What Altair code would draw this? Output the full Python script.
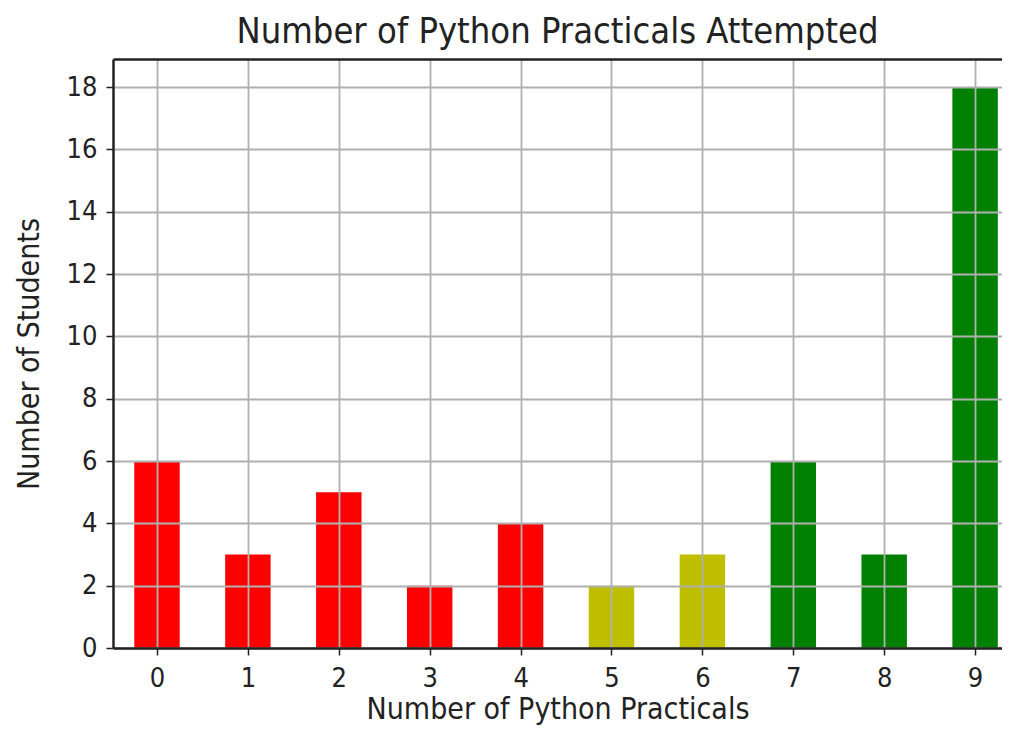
import altair as alt
import pandas as pd

practicals = [0, 1, 2, 3, 4, 5, 6, 7, 8, 9]
students = [6, 3, 5, 2, 4, 2, 3, 6, 3, 18]
groups = ["low", "low", "low", "low", "low", "mid", "mid", "high", "high", "high"]
group_names = ["low", "mid", "high"]
group_colors = ["#ff0000", "#bfbf00", "#008000"]
y_ticks = [0, 2, 4, 6, 8, 10, 12, 14, 16, 18]

df = pd.DataFrame({"practical": practicals, "students": students, "group": groups})

FONT = "'DejaVu Sans Condensed', 'DejaVu Sans', sans-serif"
xscale = alt.Scale(domain=[-0.484, 9.296], nice=False, zero=False)
yscale = alt.Scale(domain=[0, 18.9], nice=False, zero=True)

base = alt.Chart(df).transform_calculate(
    x0="datum.practical - 0.25", x1="datum.practical + 0.25"
)

bars = base.mark_bar().encode(
    x=alt.X(
        "x0:Q",
        scale=xscale,
        axis=alt.Axis(
            orient="bottom", values=practicals, title="Number of Python Practicals",
            grid=True, zindex=1, format="d", labelPadding=10, labelFontSize=27,
            titlePadding=3, titleFontSize=30,
        ),
    ),
    x2="x1:Q",
    y=alt.Y(
        "students:Q",
        scale=yscale,
        axis=alt.Axis(
            values=y_ticks, title="Number of Students", grid=True, zindex=1, format="d",
            labelPadding=9, titlePadding=22,
        ),
    ),
    y2=alt.datum(0),
    color=alt.Color("group:N", scale=alt.Scale(domain=group_names, range=group_colors), legend=None),
)

top = base.mark_bar(opacity=0).encode(
    x=alt.X(
        "x0:Q",
        scale=xscale,
        axis=alt.Axis(orient="top", labels=False, ticks=False, grid=False, title="", domain=True, zindex=1),
    ),
    x2="x1:Q",
    y=alt.Y("students:Q", scale=yscale),
    y2=alt.datum(0),
)

chart = (
    alt.layer(bars, top)
    .resolve_axis(x="independent")
    .properties(
        width=889,
        height=589,
        autosize=alt.AutoSizeParams(type="none"),
        padding={"left": 105, "top": 51, "right": 0, "bottom": 82},
        title=alt.TitleParams(
            "Number of Python Practicals Attempted", font=FONT, fontSize=36,
            fontWeight="normal", color="#222222", anchor="middle", offset=8,
        ),
    )
    .configure_view(strokeWidth=0)
    .configure_axis(
        labelFont=FONT, labelFontSize=27, labelColor="#222222",
        titleFont=FONT, titleFontSize=30, titleFontWeight="normal", titleColor="#222222",
        tickColor="#222222", tickSize=7, tickWidth=1.5,
        domainColor="#222222", domainWidth=2.5,
        gridColor="#b0b0b0", gridWidth=1.8,
    )
)

chart.save("out.html", embed_options={"renderer": "svg", "actions": False})
